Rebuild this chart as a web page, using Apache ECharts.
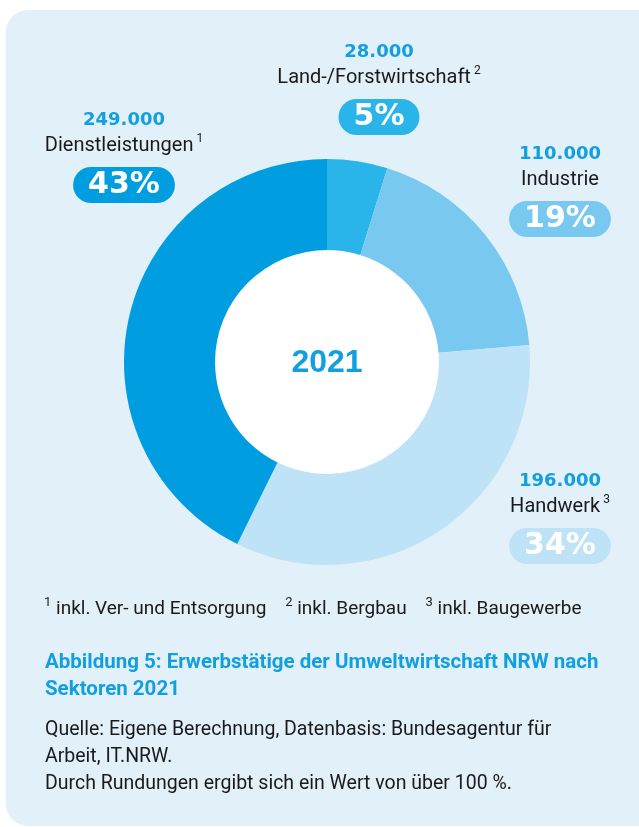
<!DOCTYPE html>
<html>
<head>
<meta charset="utf-8">
<script src="https://cdn.jsdelivr.net/npm/echarts@6/dist/echarts.min.js"></script>
<style>
html,body{margin:0;padding:0;background:#ffffff;}
#chart{width:639px;height:827px;}
</style>
</head>
<body>
<div id="chart"></div>
<script>
// ---- data ----
var categories = ['Land-/Forstwirtschaft', 'Industrie', 'Handwerk', 'Dienstleistungen'];
var footnoteMarks = ['2', '', '3', '1'];
var values = [28000, 110000, 196000, 249000];
var colors = ['#29b5ea', '#78c8ef', '#bfe3f6', '#009ee0'];
var centerLabel = '2021';
var footnotes = [['1', 'inkl. Ver- und Entsorgung'], ['2', 'inkl. Bergbau'], ['3', 'inkl. Baugewerbe']];
var captionLines = ['Abbildung 5: Erwerbstätige der Umweltwirtschaft NRW nach', 'Sektoren 2021'];
var sourceLines = ['Quelle: Eigene Berechnung, Datenbasis: Bundesagentur für', 'Arbeit, IT.NRW.', 'Durch Rundungen ergibt sich ein Wert von über 100 %.'];

// ---- layout ----
var labelAnchors = [[379, 39], [560, 141], [560, 468], [124, 107]];
var blue = '#119fe0';
var total = values.reduce(function (a, b) { return a + b; }, 0);

function fmt(v) { return String(v).replace(/\B(?=(\d{3})+(?!\d))/g, '.'); }

function richFor(color) {
  return {
    v: { fontFamily: 'DejaVu Sans', fontWeight: 'bold', fontSize: 18, color: blue, lineHeight: 26 },
    n: { fontFamily: 'Roboto', fontSize: 20, color: '#1a1a1a', lineHeight: 26 },
    s: { fontFamily: 'Roboto', fontSize: 12, color: '#1a1a1a', lineHeight: 22, verticalAlign: 'top', padding: [0, 0, 0, 3] },
    p: { fontFamily: 'DejaVu Sans', fontWeight: 'bold', fontSize: 30, color: '#ffffff', backgroundColor: color,
         height: 36, lineHeight: 52, borderRadius: 18, padding: [0, 15, 0, 15] }
  };
}

var data = categories.map(function (c, i) {
  return {
    name: c,
    value: values[i],
    itemStyle: { color: colors[i] },
    label: { rich: richFor(colors[i]) }
  };
});

var chart = echarts.init(document.getElementById('chart'), null, { renderer: 'canvas' });
chart.setOption({
  animation: false,
  graphic: [
    { type: 'rect', z: -10, shape: { x: 6, y: 10, width: 660, height: 816, r: 22 }, style: { fill: '#e2f0fa' } },
    { type: 'circle', z: -5, shape: { cx: 327, cy: 362, r: 112 }, style: { fill: '#ffffff' } },
    { type: 'text', z: 10, style: { text: centerLabel, x: 327, y: 363, align: 'center', verticalAlign: 'middle',
        fontFamily: 'Liberation Sans', fontWeight: 'bold', fontSize: 32, fill: blue } },
    { type: 'text', z: 10, style: {
        x: 44, y: 609, verticalAlign: 'middle',
        text: footnotes.map(function (f) { return '{s|' + f[0] + '}{t| ' + f[1] + '}'; }).join('{t|    }'),
        rich: {
          s: { fontFamily: 'Roboto', fontSize: 13, fill: '#1a1a1a', lineHeight: 22, verticalAlign: 'top' },
          t: { fontFamily: 'Roboto', fontSize: 19, fill: '#1a1a1a', lineHeight: 26 }
        } } },
    { type: 'text', z: 10, style: { x: 45, y: 649, text: captionLines.join('\n'), lineHeight: 27,
        fontFamily: 'Roboto', fontWeight: 'bold', fontSize: 20.5, fill: blue } },
    { type: 'text', z: 10, style: { x: 45, y: 717, text: sourceLines.join('\n'), lineHeight: 27,
        fontFamily: 'Roboto', fontSize: 19.5, fill: '#1a1a1a' } }
  ],
  series: [{
    type: 'pie',
    center: [327, 362],
    radius: [112, 203],
    startAngle: 90,
    clockwise: true,
    avoidLabelOverlap: false,
    silent: true,
    data: data,
    label: {
      show: true,
      position: 'outside',
      align: 'center',
      formatter: function (p) {
        var i = p.dataIndex;
        var pct = Math.round(values[i] / total * 100);
        var sup = footnoteMarks[i] ? '{s|' + footnoteMarks[i] + '}' : '';
        return '{v|' + fmt(values[i]) + '}\n{n|' + categories[i] + '}' + sup + '\n{p|' + pct + '%}';
      }
    },
    labelLine: { show: false },
    labelLayout: function (params) {
      var a = labelAnchors[params.dataIndex];
      return { x: a[0], y: a[1], align: 'center', verticalAlign: 'top' };
    }
  }]
});
</script>
</body>
</html>
